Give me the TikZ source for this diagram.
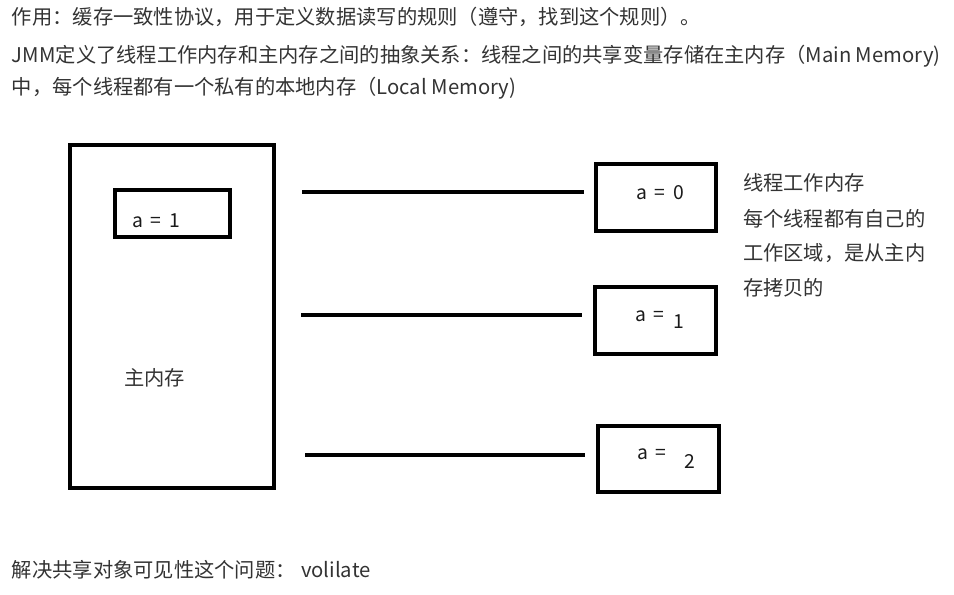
\documentclass[tikz,border=0pt]{standalone}
\usepackage{fontspec}
\setmainfont{Noto Sans CJK SC}
\definecolor{txt}{HTML}{333333}
\definecolor{lbl}{HTML}{1A1A1A}
\newcommand\valfont{\fontsize{14.5}{17}\selectfont\spaceskip=0.42em plus 0pt\relax}
\begin{document}
\begin{tikzpicture}[x=0.75pt,y=-0.75pt,
  every node/.style={inner sep=0pt, outer sep=0pt},
  para/.style={anchor=base west, text=txt, font=\fontsize{15.2}{18}\selectfont},
  boxs/.style={draw=black, line width=3pt, rectangle},
  conn/.style={draw=black, line width=3pt},
  val/.style={anchor=base west, text=lbl, font=\valfont}
]
\useasboundingbox[fill=white] (0,0) rectangle (954,594);

% header text
\node[para] (h1) at (12,24.6) {作用：缓存一致性协议，用于定义数据读写的规则（遵守，找到这个规则）。};
\node[para] (h2) at (12,62.6) {JMM定义了线程工作内存和主内存之间的抽象关系：线程之间的共享变量存储在主内存（Main Memory)};
\node[para] (h3) at (12,94.6) {中，每个线程都有一个私有的本地内存（Local Memory)};

% main memory
\node[boxs, minimum width=153pt, minimum height=257.25pt] (main) at (172,316.5) {};
\node[boxs, minimum width=86.25pt, minimum height=35.25pt] (mema) at (172.5,213.5) {};
\node[val] (memav) at (132,227) {a = 1};
\node[para] (mainlbl) at (124,385.6) {主内存};

% thread working memories
\node[boxs, minimum width=90pt, minimum height=50.25pt] (t0) at (656,197.5) {};
\node[boxs, minimum width=90.75pt, minimum height=50.25pt] (t1) at (655.5,320.5) {};
\node[boxs, minimum width=90.75pt, minimum height=49.5pt] (t2) at (658.5,459) {};
\node[val] (t0v) at (636,199) {a = 0};
\node[val] (t1v) at (635,321.4) {a =\hspace{6.5pt}\raisebox{-5pt}{1}};
\node[val] (t2v) at (637,459.7) {a =\hspace{13pt}\raisebox{-6.6pt}{2}};

% connectors
\coordinate (c0a) at (302,192); \coordinate (c0b) at (584,192);
\coordinate (c1a) at (301,315); \coordinate (c1b) at (582,315);
\coordinate (c2a) at (305,455); \coordinate (c2b) at (585,455);
\draw[conn] (c0a) -- (c0b);
\draw[conn] (c1a) -- (c1b);
\draw[conn] (c2a) -- (c2b);

% side note
\node[para] (n1) at (743,190.6) {线程工作内存};
\node[para] (n2) at (743,226.6) {每个线程都有自己的};
\node[para] (n3) at (743,260.6) {工作区域，是从主内};
\node[para] (n4) at (743,295.6) {存拷贝的};

% bottom
\node[para] (b1) at (12,577.6) {解决共享对象可见性这个问题：\hspace{4pt}volilate};
\end{tikzpicture}
\end{document}
